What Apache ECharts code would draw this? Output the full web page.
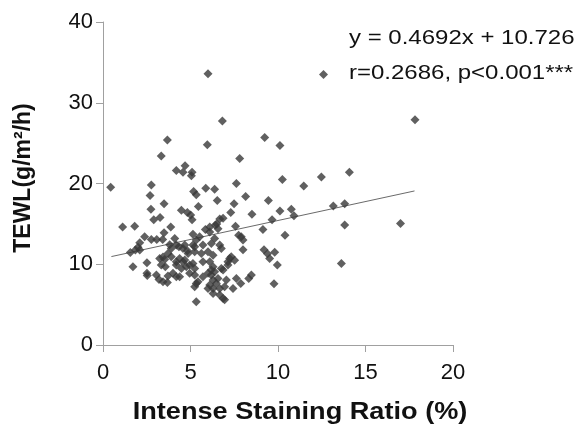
<!DOCTYPE html>
<html>
<head>
<meta charset="utf-8">
<script src="https://cdn.jsdelivr.net/npm/echarts@6/dist/echarts.min.js"></script>
<style>
html,body{margin:0;padding:0;background:#fff;}
#c{width:579px;height:427px;}
</style>
</head>
<body>
<div id="c"></div>
<script>
// Intense staining ratio (%) for each sample
const xValues = [
6.0,12.6,6.82,17.83,3.68,9.24,5.96,10.11,3.33,7.81,4.19,4.69,4.57,5.09,5.05,14.08,12.48,10.25,11.47,0.44,
2.76,7.62,5.87,6.38,5.18,5.33,2.69,8.15,6.53,9.45,3.49,7.49,5.45,13.16,13.81,2.74,4.48,4.82,5.01,7.3,
10.11,10.76,10.91,8.51,2.9,3.26,5.09,9.66,1.12,1.81,3.87,6.1,6.67,6.86,6.42,6.57,7.57,9.14,13.81,17.0,
10.4,13.62,
5.85,6.5,7.75,7.9,8.0,8.0,9.2,9.4,9.52,9.81,9.96,9.77,8.33,8.48,7.87,7.52,
1.56,1.85,2.0,2.1,2.38,2.76,3.07,3.41,3.49,4.1,1.71,2.51,2.51,2.53,3.05,3.2,3.43,3.68,3.71,3.43,3.52,3.56,3.81,
5.14,5.52,6.1,6.38,6.67,4.19,4.67,5.14,5.71,6.19,3.9,4.86,5.24,5.62,6.0,6.29,3.9,4.19,4.38,4.57,4.67,5.14,
5.71,6.1,6.29,6.19,6.76,6.86,7.14,7.24,7.33,4.19,4.48,4.76,4.95,5.24,4.0,4.19,4.38,4.95,5.24,5.71,6.0,6.57,
7.05,7.62,5.33,5.24,5.43,6.1,6.29,6.67,6.95,7.43,6.67,6.86,6.29,5.33,
6.76,7.14,6.38,6.19,6.48,6.29,6.0,6.95,5.33,5.24,4.57,2.1,3.33,3.24,3.71,4.34,4.82
];
// TEWL (g/m2/h) for each sample
const yValues = [
33.6,33.5,27.75,27.9,25.4,25.7,24.8,24.7,23.4,23.1,21.6,22.2,21.4,21.4,20.95,21.4,20.8,20.5,19.7,19.55,
19.8,20.0,19.4,19.3,19.0,18.6,18.5,18.4,17.9,17.9,17.5,17.5,17.15,17.2,17.5,16.8,16.7,16.4,16.1,16.4,
16.6,16.8,16.0,16.2,15.5,15.8,15.5,15.5,14.6,14.7,14.6,14.6,15.6,15.7,14.85,14.4,14.7,14.3,14.85,15.05,
13.6,10.1,
14.3,15.0,13.6,13.4,13.0,11.8,11.8,11.3,10.7,11.5,9.9,7.6,8.25,8.66,7.63,10.5,
11.46,11.75,12.1,12.66,13.4,13.07,13.07,13.07,13.9,13.2,9.7,10.2,8.87,8.6,8.66,8.12,7.84,7.75,8.54,10.9,10.6,9.7,12.4,
13.73,13.4,14.0,13.2,12.37,12.37,12.37,12.37,12.37,12.58,11.96,11.34,11.55,11.34,11.55,11.13,10.93,10.3,10.72,10.3,10.52,10.1,
10.3,10.3,9.69,9.28,9.48,9.28,10.3,10.72,10.93,9.9,9.48,9.69,9.9,9.48,8.87,8.45,8.45,8.87,8.66,8.45,8.87,8.25,
8.04,8.25,7.63,7.22,7.84,7.42,7.01,7.01,7.22,7.01,6.19,5.77,6.39,5.36,
11.96,9.9,9.07,8.66,7.63,8.04,7.01,5.6,13.0,12.16,11.96,11.75,9.9,10.72,11.34,12.16,11.67
];
// Fitted regression (from the equation shown on the chart)
const slope = 0.4692;
const intercept = 10.726;
const trendX = [0.48, 17.8];
const xTicks = [0, 5, 10, 15, 20];
const yTicks = [0, 10, 20, 30, 40];
const eqText = 'y = 0.4692x + 10.726';
const statText = 'r=0.2686, p<0.001***';
const xTitle = 'Intense Staining Ratio (%)';
const yTitle = 'TEWL(g/m²/h)';

const chart = echarts.init(document.getElementById('c'), null, {renderer: 'canvas'});
const font = '"Liberation Sans", Arial, sans-serif';
const axisCommon = {
  axisLine: {show: true, lineStyle: {color: '#a0a0a0', width: 1}},
  axisTick: {show: true, inside: false, length: 7, lineStyle: {color: '#a0a0a0', width: 1}},
  splitLine: {show: false},
  axisLabel: {color: '#111', fontSize: 22, fontFamily: font, margin: 10}
};
chart.setOption({
  animation: false,
  backgroundColor: '#fff',
  grid: {left: 103, right: 126, top: 22, bottom: 82, containLabel: false},
  xAxis: Object.assign({}, axisCommon, {
    type: 'value', min: xTicks[0], max: xTicks[xTicks.length - 1], interval: xTicks[1] - xTicks[0],
    axisLabel: Object.assign({}, axisCommon.axisLabel, {margin: 17})
  }),
  yAxis: Object.assign({}, axisCommon, {
    type: 'value', min: yTicks[0], max: yTicks[yTicks.length - 1], interval: yTicks[1] - yTicks[0]
  }),
  series: [
    {
      type: 'line',
      data: trendX.map(x => [x, slope * x + intercept]),
      symbol: 'none',
      lineStyle: {color: '#6a6a6a', width: 1},
      z: 1,
      silent: true
    },
    {
      type: 'scatter',
      data: xValues.map((x, i) => [x, yValues[i]]),
      symbol: 'diamond',
      symbolSize: 9,
      itemStyle: {color: '#383838'},
      z: 2
    }
  ],
  graphic: [
    {type: 'text', x: 349, y: 38, scaleX: 1.2,
     style: {text: eqText, fontSize: 20, fontFamily: font, fill: '#111', align: 'left', verticalAlign: 'middle', textAlign: 'left', textVerticalAlign: 'middle'}},
    {type: 'text', x: 349, y: 73, scaleX: 1.2,
     style: {text: statText, fontSize: 20, fontFamily: font, fill: '#111', align: 'left', verticalAlign: 'middle', textAlign: 'left', textVerticalAlign: 'middle'}},
    {type: 'text', x: 300, y: 413, scaleX: 1.18,
     style: {text: xTitle, fontSize: 23, fontWeight: 'bold', fontFamily: font, fill: '#111', align: 'center', verticalAlign: 'middle', textAlign: 'center', textVerticalAlign: 'middle'}},
    {type: 'text', x: 24, y: 178, rotation: Math.PI / 2,
     style: {text: yTitle, fontSize: 23, fontWeight: 'bold', fontFamily: font, fill: '#111', align: 'center', verticalAlign: 'middle', textAlign: 'center', textVerticalAlign: 'middle'}}
  ]
});
</script>
</body>
</html>
